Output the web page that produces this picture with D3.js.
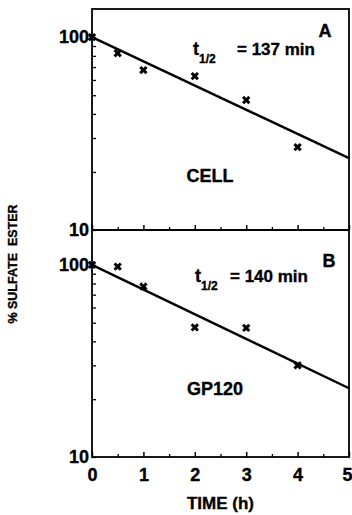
<!DOCTYPE html>
<html>
<head>
<meta charset="utf-8">
<script src="https://cdn.jsdelivr.net/npm/d3@7"></script>
<style>
  body { margin: 0; background: #fff; }
  svg text { font-family: "Liberation Sans", Arial, sans-serif; font-weight: bold; fill: #000; stroke: #000; stroke-width: 0.35; }
</style>
</head>
<body>
<div id="chart"></div>
<script>
// panel A (CELL)
const timesA = [0, 0.5, 1, 2, 3, 4];
const valuesA = [100, 82.6, 67.5, 62.8, 47.2, 26.9];
const fitA = [[0, 100], [5, 23.6]];

// panel B (GP120)
const timesB = [0, 0.5, 1, 2, 3, 4];
const valuesB = [100, 98, 77.2, 47.3, 47, 30];
const fitB = [[0, 100], [5, 22.8]];

const xMajor = [0, 1, 2, 3, 4, 5];
const xMinor = [0.5, 1.5, 2.5, 3.5, 4.5];
const yTicks = [10, 20, 30, 40, 50, 60, 70, 80, 90, 100];

const W = 352, H = 515;
const svg = d3.select('#chart').append('svg')
  .attr('width', W)
  .attr('height', H);

const x = d3.scaleLinear().domain([0, 5]).range([92, 349]);

const panels = [
  { key: 'A', times: timesA, values: valuesA, fit: fitA, top: 9, bottom: 230, ymax: 140,
    half: '137', name: 'CELL', nameY: 182, tx: 193, eqX: 237, tBase: 55, letterY: 37, letterX: 325, nameX: 210 },
  { key: 'B', times: timesB, values: valuesB, fit: fitB, top: 230, bottom: 457, ymax: 152,
    half: '140', name: 'GP120', nameY: 395, tx: 195, eqX: 230, tBase: 282, letterY: 267, letterX: 329, nameX: 215 }
];

panels.forEach((p, i) => {
  const y = d3.scaleLog().domain([10, p.ymax]).range([p.bottom, p.top]);

  // cadre
  svg.append('rect')
    .attr('x', x(0)).attr('y', p.top)
    .attr('width', x(5) - x(0)).attr('height', p.bottom - p.top)
    .attr('fill', 'none').attr('stroke', '#000').attr('stroke-width', 1.8);

  // axe Y (ticks vers l'intérieur)
  const yAxis = svg.append('g')
    .attr('transform', 'translate(' + x(0) + ',0)')
    .call(d3.axisLeft(y).tickValues(yTicks)
      .tickFormat(d => (d === 10 || d === 100) ? d : '')
      .tickSizeInner(-4).tickSizeOuter(0).tickPadding(3));
  yAxis.select('.domain').remove();
  yAxis.selectAll('line').attr('stroke-width', 1.3);
  yAxis.selectAll('text').style('font-size', '18px').attr('font-family', null);

  // axe X
  const xAxis = svg.append('g')
    .attr('transform', 'translate(0,' + p.bottom + ')')
    .call(d3.axisBottom(x).tickValues(xMajor)
      .tickFormat(i === 1 ? d3.format('d') : '')
      .tickSizeInner(-5).tickSizeOuter(0).tickPadding(11));
  xAxis.select('.domain').remove();
  xAxis.selectAll('line').attr('stroke-width', 1.5);
  xAxis.selectAll('text').style('font-size', '18px').attr('font-family', null)
    .attr('dx', d => d === 5 ? -2 : 0);

  const xMin = svg.append('g')
    .attr('transform', 'translate(0,' + p.bottom + ')')
    .call(d3.axisBottom(x).tickValues(xMinor).tickFormat('')
      .tickSizeInner(-3).tickSizeOuter(0));
  xMin.select('.domain').remove();
  xMin.selectAll('line').attr('stroke-width', 1.3);

  // droite de régression
  const line = d3.line()
    .x(d => x(d[0]))
    .y(d => y(d[1]));
  svg.append('path')
    .datum(p.fit)
    .attr('fill', 'none')
    .attr('stroke', '#000')
    .attr('stroke-width', 2.4)
    .attr('d', line);

  // points
  const sym = d3.symbol().type(d3.symbolCross).size(44);
  svg.selectAll('.pt' + p.key)
    .data(p.times.map((t, j) => ({ t: t, v: p.values[j] })))
    .enter().append('path')
    .attr('class', 'pt' + p.key)
    .attr('d', sym)
    .attr('transform', d => 'translate(' + x(d.t) + ',' + y(d.v) + ') rotate(45)')
    .attr('fill', '#000');

  // textes
  svg.append('text')
    .attr('x', p.letterX).attr('y', p.letterY)
    .attr('text-anchor', 'middle')
    .style('font-size', '18px')
    .text(p.key);

  svg.append('text')
    .attr('x', p.tx).attr('y', p.tBase)
    .style('font-size', '18px')
    .text('t');
  svg.append('text')
    .attr('x', p.tx + 6).attr('y', p.tBase + 8)
    .style('font-size', '12px')
    .text('1/2');
  svg.append('text')
    .attr('x', p.eqX).attr('y', p.tBase)
    .style('font-size', '17px')
    .text('= ' + p.half + ' min');

  svg.append('text')
    .attr('x', p.nameX).attr('y', p.nameY)
    .attr('text-anchor', 'middle')
    .style('font-size', '18px')
    .text(p.name);
});

// titres des axes
svg.append('text')
  .attr('x', x(2.5)).attr('y', 509)
  .attr('text-anchor', 'middle')
  .style('font-size', '17px')
  .text('TIME (h)');

svg.append('text')
  .attr('transform', 'translate(17,264) rotate(-90)')
  .attr('text-anchor', 'middle')
  .style('font-size', '12.5px')
  .attr('xml:space', 'preserve')
  .style('white-space', 'pre')
  .text('% SULFATE  ESTER');
</script>
</body>
</html>
